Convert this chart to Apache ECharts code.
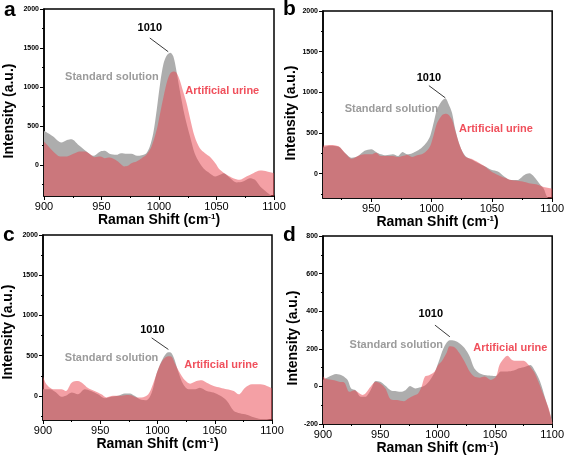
<!DOCTYPE html>
<html>
<head>
<meta charset="utf-8">
<script src="https://cdn.jsdelivr.net/npm/echarts@6/dist/echarts.min.js"></script>
<style>
html,body{margin:0;padding:0;background:#fff;}
#chart{width:567px;height:458px;}
</style>
</head>
<body>
<div id="chart"></div>
<script>
// ---------- DATA (Raman shift cm-1, intensity a.u.) ----------
const xTicksFull = [900, 950, 1000, 1050, 1100];
const xTicksB = [950, 1000, 1050, 1100];
const xMinorTicks = [925, 975, 1025, 1075];
const yTicksABC = [0, 500, 1000, 1500, 2000];
const yMinorABC = [-250, 250, 750, 1250, 1750];
const yTicksD = [-200, 0, 200, 400, 600, 800];
const yMinorD = [-100, 100, 300, 500, 700];

const seriesNames = ['Standard solution', 'Artificial urine'];
const peakLabel = '1010';
const panelLetters = ['a', 'b', 'c', 'd'];

const aStandard = [[900,436],[908,363],[915,286],[920,320],[924,329],[930,256],[937,171],[943,115],[949,171],[953,180],[957,141],[963,128],[967,150],[972,141],[976,141],[981,115],[985,124],[989,150],[992,235],[995,406],[998,705],[1001,1047],[1004,1303],[1007,1410],[1010,1440],[1012.5,1389],[1015,1218],[1018,962],[1022.5,620],[1027,363],[1031,150],[1035.5,21],[1040,-64],[1044,-107],[1049,-150],[1053,-128],[1056,-107],[1062,-171],[1067.5,-226],[1073,-214],[1079,-171],[1083.5,-192],[1088,-278],[1094,-355],[1099,-410],[1100,-420]];
const aUrine = [[900,299],[904,235],[908,171],[914,107],[920,107],[925.5,141],[931,171],[935.5,171],[940,137],[944,98],[949,107],[953,85],[957,94],[962,64],[966,21],[970,-21],[973,-13],[976,21],[980.5,43],[985,85],[989,128],[993.5,235],[998,449],[1001,662],[1004,876],[1007,1068],[1009.5,1167],[1012.5,1197],[1015,1184],[1018,1090],[1021,940],[1024,790],[1027,598],[1031,363],[1035.5,214],[1040,150],[1044,107],[1049,21],[1053,-64],[1059,-128],[1064.5,-171],[1070,-192],[1076,-150],[1082,-107],[1088,-73],[1094,-85],[1100,-107]];

const bStandard = [[910,322],[916,343],[923,330],[928,258],[934,195],[939,216],[944.5,280],[950,301],[954,267],[958,237],[962,225],[968,237],[972,216],[976,267],[980,237],[984,250],[988,280],[992,322],[996,386],[999,470],[1002,640],[1004.5,788],[1008.5,894],[1011.5,924],[1014,860],[1017,746],[1019.5,555],[1023.5,343],[1028,216],[1033,174],[1038.5,131],[1044,89],[1049.5,47],[1055,25],[1060.5,-38],[1066,-80],[1071,-80],[1077,-17],[1081,4],[1085,-38],[1090.5,-144],[1093,-186],[1096,-292],[1100,-330]];
const bUrine = [[910,343],[916,352],[923,335],[928,258],[934,182],[939,216],[944.5,237],[950,237],[954,258],[958,216],[962,216],[968,216],[972,203],[976,216],[980,229],[984,203],[988,225],[992,237],[996,280],[999,343],[1002,491],[1004.5,619],[1008.5,716],[1011.5,737],[1014,725],[1017,661],[1019.5,534],[1023.5,343],[1028,208],[1033,182],[1038.5,140],[1044,89],[1049.5,25],[1055,-17],[1060.5,-51],[1066,-80],[1071,-89],[1077,-102],[1082,-123],[1088,-136],[1093,-165],[1100,-186]];

const cStandard = [[900,82],[906,82],[911.5,41],[916,-12],[920,0],[925,41],[930.5,20],[936.5,82],[942,61],[948,20],[954,-29],[960,-12],[965.5,0],[971.5,29],[976,29],[980,0],[984.5,-41],[990.5,-53],[995,41],[999,266],[1003.5,430],[1008,533],[1011,541],[1014,484],[1018,307],[1022.5,143],[1027,82],[1033,82],[1037,102],[1043,61],[1049,41],[1055,0],[1060.5,-61],[1066.5,-184],[1072,-217],[1078,-234],[1084,-266],[1090,-287],[1095.5,-287],[1100,-287]];
const cUrine = [[900,246],[903,143],[909,82],[916,82],[920,61],[925,164],[930.5,184],[935,152],[939,102],[945,61],[951,20],[955.5,-20],[961,0],[967,0],[973,12],[977,8],[982,-20],[986,-20],[992,20],[996,143],[1000.5,328],[1005,451],[1009.5,492],[1012.5,484],[1015,410],[1019.5,287],[1024,193],[1028.5,152],[1034,184],[1038.5,193],[1043,164],[1049,123],[1055,102],[1060.5,82],[1066.5,61],[1071,20],[1076.5,102],[1082.5,143],[1090,143],[1095.5,123],[1100,94]];

const dStandard = [[900,34],[905.5,52],[911.5,66],[917,57],[921.5,34],[924.5,-11],[928.5,-20],[933,-55],[937,-55],[941.5,-20],[946,29],[950,25],[954.5,4],[959,-20],[963,-25],[967.5,-29],[972,-20],[976,2],[980.5,-11],[985,-5],[989,5],[993,30],[997.5,75],[1002,150],[1006,213],[1010.5,246],[1015,243],[1019,230],[1023.5,204],[1028,159],[1032,96],[1036.5,70],[1041,61],[1046.5,57],[1051,55],[1055,79],[1061,79],[1066.5,84],[1071,96],[1076.5,105],[1081,114],[1085,82],[1089.5,25],[1094,-64],[1098,-145],[1100,-189]];
const dUrine = [[900,52],[903,39],[908.5,34],[914,25],[918.5,21],[923,-29],[927.5,-20],[930,-29],[934.5,-46],[937,-38],[941.5,-2],[946,25],[950,16],[954.5,-11],[959,-68],[964.5,-73],[970.5,-79],[974.5,-64],[979,-50],[983,-38],[986,-2],[989,52],[993,61],[997.5,79],[1000.5,114],[1003.5,132],[1008,180],[1010.5,213],[1015,207],[1019,177],[1023.5,132],[1028,79],[1032,52],[1036.5,46],[1041,52],[1046.5,34],[1051,52],[1054,114],[1058,150],[1061,163],[1065,141],[1069.5,136],[1075,136],[1079.5,114],[1084,79],[1088,25],[1092.5,-46],[1097,-118],[1100,-189]];

// ---------- LAYOUT ----------
const panels = [
  { std: aStandard, urine: aUrine, grid: {left: 44, top: 9, width: 230, height: 187},
    xMin: 900, xMax: 1100, xMajor: xTicksFull, yMin: -400, yMax: 2000, yMajor: yTicksABC, yMinor: yMinorABC,
    xNameGap: 15, yNameGap: 28, yNamePad: 17, letter: {x: 4, y: 0},
    ann: {peak: [992, 1760], arrow: [[992, 1628], [1008, 1452]], std: [959, 1128], urine: [1055, 949]} },
  { std: bStandard, urine: bUrine, grid: {left: 323, top: 11, width: 232, height: 187},
    xMin: 910, xMax: 1100, xMajor: xTicksB, yMin: -300, yMax: 2000, yMajor: yTicksABC, yMinor: yMinorABC,
    xNameGap: 14, yNameGap: 25, yNamePad: 17, letter: {x: 283, y: -1},
    ann: {peak: [997.8, 1180], arrow: [[997.8, 1082], [1011.4, 932]], std: [966.7, 801], urine: [1053.4, 545]} },
  { std: cStandard, urine: cUrine, grid: {left: 43, top: 235, width: 229, height: 185},
    xMin: 900, xMax: 1100, xMajor: xTicksFull, yMin: -300, yMax: 2000, yMajor: yTicksABC, yMinor: yMinorABC,
    xNameGap: 14, yNameGap: 28, yNamePad: 9, letter: {x: 3, y: 225},
    ann: {peak: [995.6, 824], arrow: [[994.9, 721], [1009.5, 577]], std: [959.9, 466], urine: [1055.6, 379]} },
  { std: dStandard, urine: dUrine, grid: {left: 323, top: 236, width: 232, height: 188},
    xMin: 900, xMax: 1100, xMajor: xTicksFull, yMin: -200, yMax: 800, yMajor: yTicksD, yMinor: yMinorD,
    xNameGap: 11, yNameGap: 21, yNamePad: 16, letter: {x: 283, y: 225},
    ann: {peak: [994.1, 385], arrow: [[997.7, 326], [1010.7, 264]], std: [964, 220], urine: [1063.5, 206]} }
];

const FONT = '"Liberation Sans", Arial, sans-serif';
const GRAY_FILL = '#adadad';
const RED_FILL = 'rgb(234,66,76)';
const GRAY_TEXT = '#9b9b9b';
const RED_TEXT = '#f0505c';
const plain = v => String(v);

const grids = [], xAxes = [], yAxes = [], series = [], graphics = [];

panels.forEach((p, i) => {
  grids.push(Object.assign({show: true, borderColor: '#000', borderWidth: 1.5, backgroundColor: 'transparent', containLabel: false}, p.grid));

  xAxes.push({
    type: 'value', gridIndex: i, min: p.xMin, max: p.xMax, position: 'bottom',
    axisLine: {show: true, onZero: false, lineStyle: {color: '#000', width: 1.5}},
    axisTick: {show: true, customValues: p.xMajor, length: 4, lineStyle: {color: '#000', width: 1}},
    axisLabel: {customValues: p.xMajor, formatter: plain, fontSize: 11, color: '#000', margin: 5, fontFamily: FONT},
    splitLine: {show: false},
    name: 'Raman Shift (cm{sup|-1})', nameLocation: 'middle', nameGap: p.xNameGap,
    nameTextStyle: {fontSize: 14, fontWeight: 'bold', color: '#000', fontFamily: FONT,
      rich: {sup: {fontSize: 8, fontWeight: 'bold', color: '#000', fontFamily: FONT, verticalAlign: 'top', padding: [0, 0, 6, 0]}}}
  });
  xAxes.push({
    type: 'value', gridIndex: i, min: p.xMin, max: p.xMax, position: 'bottom',
    axisLine: {show: false, onZero: false},
    axisTick: {show: true, customValues: xMinorTicks, length: 2, lineStyle: {color: '#000', width: 1}},
    axisLabel: {show: false}, splitLine: {show: false}
  });

  yAxes.push({
    type: 'value', gridIndex: i, min: p.yMin, max: p.yMax, position: 'left',
    axisLine: {show: true, onZero: false, lineStyle: {color: '#000', width: 1.5}},
    axisTick: {show: true, customValues: p.yMajor, length: 4, lineStyle: {color: '#000', width: 1}},
    axisLabel: {customValues: p.yMajor, formatter: plain, fontSize: 7, fontWeight: 'bold', color: '#000', margin: 5, fontFamily: FONT},
    splitLine: {show: false},
    name: 'Intensity (a.u.)', nameLocation: 'middle', nameGap: p.yNameGap,
    nameTextStyle: {fontSize: 14, fontWeight: 'bold', color: '#000', fontFamily: FONT, padding: [0, p.yNamePad, 0, 0]}
  });
  yAxes.push({
    type: 'value', gridIndex: i, min: p.yMin, max: p.yMax, position: 'left',
    axisLine: {show: false, onZero: false},
    axisTick: {show: true, customValues: p.yMinor, length: 2, lineStyle: {color: '#000', width: 1}},
    axisLabel: {show: false}, splitLine: {show: false}
  });

  const xi = 2 * i, yi = 2 * i;
  series.push({
    name: seriesNames[0], type: 'line', xAxisIndex: xi, yAxisIndex: yi, data: p.std,
    smooth: 0.3, symbol: 'none', showSymbol: false, silent: true,
    lineStyle: {width: 0, opacity: 0},
    areaStyle: {color: GRAY_FILL, opacity: 1, origin: 'start'}
  });
  series.push({
    name: seriesNames[1], type: 'line', xAxisIndex: xi, yAxisIndex: yi, data: p.urine,
    smooth: 0.3, symbol: 'none', showSymbol: false, silent: true,
    lineStyle: {width: 0, opacity: 0},
    areaStyle: {color: RED_FILL, opacity: 0.5, origin: 'start'}
  });
  // annotations anchored in data space
  const lbl = (txt, color) => ({show: true, formatter: txt, position: 'inside', color: color, fontSize: 11, fontWeight: 'bold', fontFamily: FONT, opacity: 1});
  series.push({
    type: 'scatter', xAxisIndex: xi, yAxisIndex: yi, symbolSize: 1, silent: true,
    itemStyle: {color: 'rgba(0,0,0,0)'}, z: 5,
    data: [
      {value: p.ann.peak, label: lbl(peakLabel, '#000')},
      {value: p.ann.std, label: lbl(seriesNames[0], GRAY_TEXT)},
      {value: p.ann.urine, label: lbl(seriesNames[1], RED_TEXT)}
    ],
    markLine: {
      silent: true, animation: false, symbol: ['none', 'arrow'], symbolSize: [0, 7],
      label: {show: false},
      lineStyle: {color: '#222', width: 0.9, type: 'solid', opacity: 1},
      data: [[{coord: p.ann.arrow[0]}, {coord: p.ann.arrow[1]}]]
    }
  });

  graphics.push({
    type: 'text', left: p.letter.x, top: p.letter.y, silent: true,
    style: {text: panelLetters[i], fill: '#000', font: 'bold 21px ' + FONT}
  });
});

const chart = echarts.init(document.getElementById('chart'), null, {renderer: 'canvas'});
chart.setOption({
  animation: false,
  backgroundColor: '#fff',
  grid: grids,
  xAxis: xAxes,
  yAxis: yAxes,
  series: series,
  graphic: graphics
});
</script>
</body>
</html>
